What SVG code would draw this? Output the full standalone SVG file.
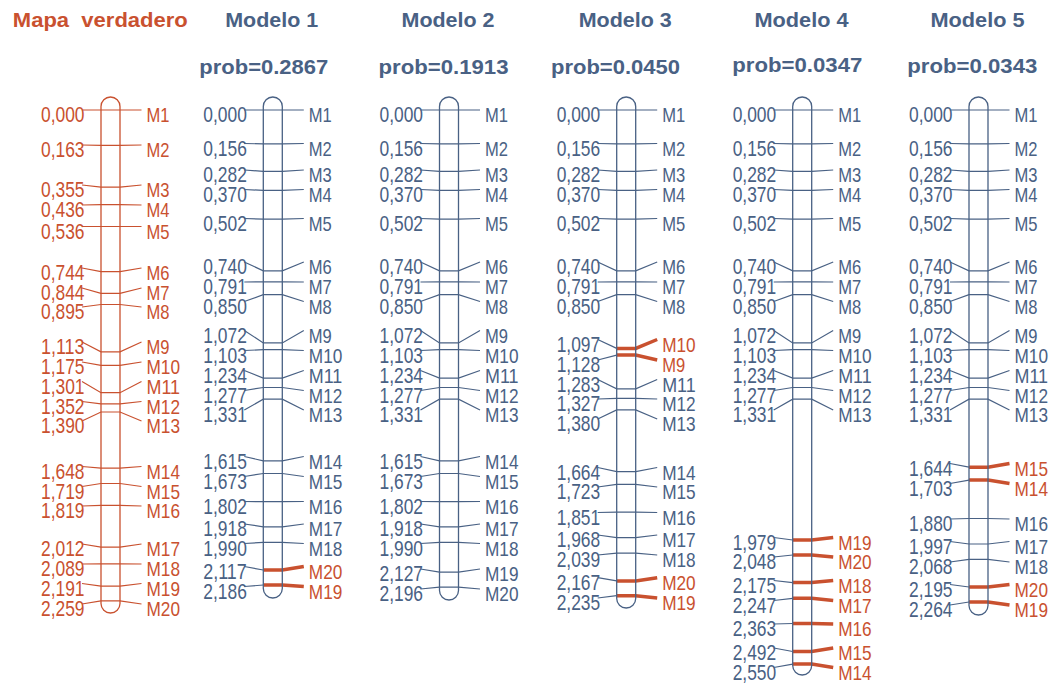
<svg xmlns="http://www.w3.org/2000/svg" width="1050" height="684" viewBox="0 0 1050 684">
<style>
text{font-family:"Liberation Sans",Arial,sans-serif;}
.t{font-size:20px;font-weight:bold;text-anchor:middle;}
.n{font-size:21.5px;text-anchor:end;}
.m{font-size:21px;}
.B{fill:#496184;}
.R{fill:#c9512f;}
.lb{fill:none;stroke:#496184;stroke-width:1.2;}
.lr{fill:none;stroke:#c9512f;stroke-width:1.2;}
.lt{fill:none;stroke:#c9512f;stroke-width:3.5;}
.cb{fill:none;stroke:#496184;stroke-width:1.3;}
.cr{fill:none;stroke:#c9512f;stroke-width:1.3;}
</style>
<rect width="1050" height="684" fill="#ffffff"/>
<g id="titles">
<text class="t R" x="100.3" y="26.7" textLength="175" lengthAdjust="spacingAndGlyphs">Mapa&#160; verdadero</text>
<text class="t B" x="271.7" y="26.7" textLength="93" lengthAdjust="spacingAndGlyphs">Modelo 1</text>
<text class="t B" x="448" y="26.7" textLength="93" lengthAdjust="spacingAndGlyphs">Modelo 2</text>
<text class="t B" x="625.2" y="26.7" textLength="93" lengthAdjust="spacingAndGlyphs">Modelo 3</text>
<text class="t B" x="801.5" y="26.7" textLength="94" lengthAdjust="spacingAndGlyphs">Modelo 4</text>
<text class="t B" x="977.5" y="26.7" textLength="94" lengthAdjust="spacingAndGlyphs">Modelo 5</text>
<text class="t B" x="263.8" y="74" textLength="129" lengthAdjust="spacingAndGlyphs">prob=0.2867</text>
<text class="t B" x="443.5" y="74" textLength="130" lengthAdjust="spacingAndGlyphs">prob=0.1913</text>
<text class="t B" x="615.5" y="74" textLength="129" lengthAdjust="spacingAndGlyphs">prob=0.0450</text>
<text class="t B" x="797.3" y="71.7" textLength="130" lengthAdjust="spacingAndGlyphs">prob=0.0347</text>
<text class="t B" x="972.3" y="72.7" textLength="130" lengthAdjust="spacingAndGlyphs">prob=0.0343</text>
</g>

<g id="connectors">
<g id="leaders-true" class="lr" transform="translate(101,0)">
<polyline points="-19,110 0,110 19,110 40.5,110"/>
<polyline points="-19,145 0,145.4 19,145.4 40.5,145"/>
<polyline points="-19,185 0,187.1 19,187.1 40.5,185"/>
<polyline points="-19,205 0,204.7 19,204.7 40.5,205"/>
<polyline points="-19,226.5 0,226.5 19,226.5 40.5,226.5"/>
<polyline points="-19,268 0,271.7 19,271.7 40.5,268"/>
<polyline points="-19,288 0,293.4 19,293.4 40.5,288"/>
<polyline points="-19,307 0,304.5 19,304.5 40.5,307"/>
<polyline points="-19,342 0,351.9 19,351.9 40.5,342"/>
<polyline points="-19,362 0,365.3 19,365.3 40.5,362"/>
<polyline points="-19,381.5 0,392.7 19,392.7 40.5,381.5"/>
<polyline points="-19,401.5 0,403.8 19,403.8 40.5,401.5"/>
<polyline points="-19,421 0,412 19,412 40.5,421"/>
<polyline points="-19,466.5 0,468.1 19,468.1 40.5,466.5"/>
<polyline points="-19,486.5 0,483.5 19,483.5 40.5,486.5"/>
<polyline points="-19,506 0,505.3 19,505.3 40.5,506"/>
<polyline points="-19,544 0,547.2 19,547.2 40.5,544"/>
<polyline points="-19,564 0,563.9 19,563.9 40.5,564"/>
<polyline points="-19,583.5 0,586.1 19,586.1 40.5,583.5"/>
<polyline points="-19,604 0,600.9 19,600.9 40.5,604"/>
</g>
<g id="leaders-m1" transform="translate(263.3,0)">
<g class="lb">
<polyline points="-19,110 0,110 19,110 40.5,110"/>
<polyline points="-19,143.5 0,143.9 19,143.9 40.5,143.5"/>
<polyline points="-19,170 0,171.3 19,171.3 40.5,170"/>
<polyline points="-19,189.5 0,190.4 19,190.4 40.5,189.5"/>
<polyline points="-19,218.5 0,219.1 19,219.1 40.5,218.5"/>
<polyline points="-19,262 0,270.8 19,270.8 40.5,262"/>
<polyline points="-19,282 0,281.9 19,281.9 40.5,282"/>
<polyline points="-19,301.5 0,294.7 19,294.7 40.5,301.5"/>
<polyline points="-19,330.5 0,342.9 19,342.9 40.5,330.5"/>
<polyline points="-19,350.5 0,349.7 19,349.7 40.5,350.5"/>
<polyline points="-19,370.5 0,378.1 19,378.1 40.5,370.5"/>
<polyline points="-19,390.5 0,387.5 19,387.5 40.5,390.5"/>
<polyline points="-19,410 0,399.2 19,399.2 40.5,410"/>
<polyline points="-19,456.5 0,460.9 19,460.9 40.5,456.5"/>
<polyline points="-19,476.5 0,473.5 19,473.5 40.5,476.5"/>
<polyline points="-19,501.5 0,501.6 19,501.6 40.5,501.5"/>
<polyline points="-19,524 0,526.8 19,526.8 40.5,524"/>
<polyline points="-19,543.5 0,542.4 19,542.4 40.5,543.5"/>
<polyline points="-19,566.5 0,570"/>
<polyline points="-19,586.5 0,585"/>
</g>
<g class="lt">
<polyline points="0,570 19,570 40.5,566.5"/>
<polyline points="0,585 19,585 40.5,586.5"/>
</g>
</g>
<g id="leaders-m2" class="lb" transform="translate(439.5,0)">
<polyline points="-19,110 0,110 19,110 40.5,110"/>
<polyline points="-19,143.5 0,143.9 19,143.9 40.5,143.5"/>
<polyline points="-19,170 0,171.3 19,171.3 40.5,170"/>
<polyline points="-19,189.5 0,190.4 19,190.4 40.5,189.5"/>
<polyline points="-19,218.5 0,219.1 19,219.1 40.5,218.5"/>
<polyline points="-19,262 0,270.8 19,270.8 40.5,262"/>
<polyline points="-19,282 0,281.9 19,281.9 40.5,282"/>
<polyline points="-19,301.5 0,294.7 19,294.7 40.5,301.5"/>
<polyline points="-19,330.5 0,342.9 19,342.9 40.5,330.5"/>
<polyline points="-19,350.5 0,349.7 19,349.7 40.5,350.5"/>
<polyline points="-19,370.5 0,378.1 19,378.1 40.5,370.5"/>
<polyline points="-19,390.5 0,387.5 19,387.5 40.5,390.5"/>
<polyline points="-19,410 0,399.2 19,399.2 40.5,410"/>
<polyline points="-19,456.5 0,460.9 19,460.9 40.5,456.5"/>
<polyline points="-19,476.5 0,473.5 19,473.5 40.5,476.5"/>
<polyline points="-19,501.5 0,501.6 19,501.6 40.5,501.5"/>
<polyline points="-19,524 0,526.8 19,526.8 40.5,524"/>
<polyline points="-19,543.5 0,542.4 19,542.4 40.5,543.5"/>
<polyline points="-19,569 0,572.2 19,572.2 40.5,569"/>
<polyline points="-19,589 0,587.2 19,587.2 40.5,589"/>
</g>
<g id="leaders-m3" transform="translate(616.7,0)">
<g class="lb">
<polyline points="-19,110 0,110 19,110 40.5,110"/>
<polyline points="-19,143.5 0,143.9 19,143.9 40.5,143.5"/>
<polyline points="-19,170 0,171.3 19,171.3 40.5,170"/>
<polyline points="-19,189.5 0,190.4 19,190.4 40.5,189.5"/>
<polyline points="-19,218.5 0,219.1 19,219.1 40.5,218.5"/>
<polyline points="-19,262 0,270.8 19,270.8 40.5,262"/>
<polyline points="-19,282 0,281.9 19,281.9 40.5,282"/>
<polyline points="-19,301.5 0,294.7 19,294.7 40.5,301.5"/>
<polyline points="-19,339.5 0,348.4"/>
<polyline points="-19,360 0,355.1"/>
<polyline points="-19,379.5 0,388.8 19,388.8 40.5,379.5"/>
<polyline points="-19,399 0,398.4 19,398.4 40.5,399"/>
<polyline points="-19,419 0,409.9 19,409.9 40.5,419"/>
<polyline points="-19,467.5 0,471.6 19,471.6 40.5,467.5"/>
<polyline points="-19,487 0,484.4 19,484.4 40.5,487"/>
<polyline points="-19,512.5 0,512.2 19,512.2 40.5,512.5"/>
<polyline points="-19,535 0,537.6 19,537.6 40.5,535"/>
<polyline points="-19,555 0,553.1 19,553.1 40.5,555"/>
<polyline points="-19,577.7 0,580.9"/>
<polyline points="-19,598 0,595.7"/>
</g>
<g class="lt">
<polyline points="0,348.4 19,348.4 40.5,339.5"/>
<polyline points="0,355.1 19,355.1 40.5,360"/>
<polyline points="0,580.9 19,580.9 40.5,577.7"/>
<polyline points="0,595.7 19,595.7 40.5,598"/>
</g>
</g>
<g id="leaders-m4" transform="translate(792.7,0)">
<g class="lb">
<polyline points="-19,110 0,110 19,110 40.5,110"/>
<polyline points="-19,143.5 0,143.9 19,143.9 40.5,143.5"/>
<polyline points="-19,170 0,171.3 19,171.3 40.5,170"/>
<polyline points="-19,189.5 0,190.4 19,190.4 40.5,189.5"/>
<polyline points="-19,218.5 0,219.1 19,219.1 40.5,218.5"/>
<polyline points="-19,262 0,270.8 19,270.8 40.5,262"/>
<polyline points="-19,282 0,281.9 19,281.9 40.5,282"/>
<polyline points="-19,301.5 0,294.7 19,294.7 40.5,301.5"/>
<polyline points="-19,330.5 0,342.9 19,342.9 40.5,330.5"/>
<polyline points="-19,350.5 0,349.7 19,349.7 40.5,350.5"/>
<polyline points="-19,370.5 0,378.1 19,378.1 40.5,370.5"/>
<polyline points="-19,390.5 0,387.5 19,387.5 40.5,390.5"/>
<polyline points="-19,410 0,399.2 19,399.2 40.5,410"/>
<polyline points="-19,537.5 0,540"/>
<polyline points="-19,557 0,555"/>
<polyline points="-19,580.5 0,582.6"/>
<polyline points="-19,600.5 0,598.3"/>
<polyline points="-19,624 0,623.5"/>
<polyline points="-19,648 0,651.5"/>
<polyline points="-19,667.5 0,664.1"/>
</g>
<g class="lt">
<polyline points="0,540 19,540 40.5,537.5"/>
<polyline points="0,555 19,555 40.5,557"/>
<polyline points="0,582.6 19,582.6 40.5,580.5"/>
<polyline points="0,598.3 19,598.3 40.5,600.5"/>
<polyline points="0,623.5 19,623.5 40.5,624"/>
<polyline points="0,651.5 19,651.5 40.5,648"/>
<polyline points="0,664.1 19,664.1 40.5,667.5"/>
</g>
</g>
<g id="leaders-m5" transform="translate(969,0)">
<g class="lb">
<polyline points="-19,110 0,110 19,110 40.5,110"/>
<polyline points="-19,143.5 0,143.9 19,143.9 40.5,143.5"/>
<polyline points="-19,170 0,171.3 19,171.3 40.5,170"/>
<polyline points="-19,189.5 0,190.4 19,190.4 40.5,189.5"/>
<polyline points="-19,218.5 0,219.1 19,219.1 40.5,218.5"/>
<polyline points="-19,262 0,270.8 19,270.8 40.5,262"/>
<polyline points="-19,282 0,281.9 19,281.9 40.5,282"/>
<polyline points="-19,301.5 0,294.7 19,294.7 40.5,301.5"/>
<polyline points="-19,330.5 0,342.9 19,342.9 40.5,330.5"/>
<polyline points="-19,350.5 0,349.7 19,349.7 40.5,350.5"/>
<polyline points="-19,370.5 0,378.1 19,378.1 40.5,370.5"/>
<polyline points="-19,390.5 0,387.5 19,387.5 40.5,390.5"/>
<polyline points="-19,410 0,399.2 19,399.2 40.5,410"/>
<polyline points="-19,463.5 0,467.2"/>
<polyline points="-19,483.5 0,480.1"/>
<polyline points="-19,519 0,518.5 19,518.5 40.5,519"/>
<polyline points="-19,541.5 0,544 19,544 40.5,541.5"/>
<polyline points="-19,562 0,559.4 19,559.4 40.5,562"/>
<polyline points="-19,584.5 0,587"/>
<polyline points="-19,605 0,602"/>
</g>
<g class="lt">
<polyline points="0,467.2 19,467.2 40.5,463.5"/>
<polyline points="0,480.1 19,480.1 40.5,483.5"/>
<polyline points="0,587 19,587 40.5,584.5"/>
<polyline points="0,602 19,602 40.5,605"/>
</g>
</g>
</g>

<g id="map-true" transform="translate(101,0)">
<rect class="cr" x="0" y="97" width="19" height="516" rx="9.5" ry="9.5"/>
<g class="R">
<text class="n" x="-16.5" y="122" textLength="43.5" lengthAdjust="spacingAndGlyphs">0,000</text>
<text class="n" x="-16.5" y="157" textLength="43.5" lengthAdjust="spacingAndGlyphs">0,163</text>
<text class="n" x="-16.5" y="197" textLength="43.5" lengthAdjust="spacingAndGlyphs">0,355</text>
<text class="n" x="-16.5" y="217" textLength="43.5" lengthAdjust="spacingAndGlyphs">0,436</text>
<text class="n" x="-16.5" y="238.5" textLength="43.5" lengthAdjust="spacingAndGlyphs">0,536</text>
<text class="n" x="-16.5" y="280" textLength="43.5" lengthAdjust="spacingAndGlyphs">0,744</text>
<text class="n" x="-16.5" y="300" textLength="43.5" lengthAdjust="spacingAndGlyphs">0,844</text>
<text class="n" x="-16.5" y="319" textLength="43.5" lengthAdjust="spacingAndGlyphs">0,895</text>
<text class="n" x="-16.5" y="354" textLength="43.5" lengthAdjust="spacingAndGlyphs">1,113</text>
<text class="n" x="-16.5" y="374" textLength="43.5" lengthAdjust="spacingAndGlyphs">1,175</text>
<text class="n" x="-16.5" y="393.5" textLength="43.5" lengthAdjust="spacingAndGlyphs">1,301</text>
<text class="n" x="-16.5" y="413.5" textLength="43.5" lengthAdjust="spacingAndGlyphs">1,352</text>
<text class="n" x="-16.5" y="433" textLength="43.5" lengthAdjust="spacingAndGlyphs">1,390</text>
<text class="n" x="-16.5" y="478.5" textLength="43.5" lengthAdjust="spacingAndGlyphs">1,648</text>
<text class="n" x="-16.5" y="498.5" textLength="43.5" lengthAdjust="spacingAndGlyphs">1,719</text>
<text class="n" x="-16.5" y="518" textLength="43.5" lengthAdjust="spacingAndGlyphs">1,819</text>
<text class="n" x="-16.5" y="556" textLength="43.5" lengthAdjust="spacingAndGlyphs">2,012</text>
<text class="n" x="-16.5" y="576" textLength="43.5" lengthAdjust="spacingAndGlyphs">2,089</text>
<text class="n" x="-16.5" y="595.5" textLength="43.5" lengthAdjust="spacingAndGlyphs">2,191</text>
<text class="n" x="-16.5" y="616" textLength="43.5" lengthAdjust="spacingAndGlyphs">2,259</text>
<text class="m" x="45.5" y="122" textLength="23" lengthAdjust="spacingAndGlyphs">M1</text>
<text class="m" x="45.5" y="157" textLength="23" lengthAdjust="spacingAndGlyphs">M2</text>
<text class="m" x="45.5" y="197" textLength="23" lengthAdjust="spacingAndGlyphs">M3</text>
<text class="m" x="45.5" y="217" textLength="23" lengthAdjust="spacingAndGlyphs">M4</text>
<text class="m" x="45.5" y="238.5" textLength="23" lengthAdjust="spacingAndGlyphs">M5</text>
<text class="m" x="45.5" y="280" textLength="23" lengthAdjust="spacingAndGlyphs">M6</text>
<text class="m" x="45.5" y="300" textLength="23" lengthAdjust="spacingAndGlyphs">M7</text>
<text class="m" x="45.5" y="319" textLength="23" lengthAdjust="spacingAndGlyphs">M8</text>
<text class="m" x="45.5" y="354" textLength="23" lengthAdjust="spacingAndGlyphs">M9</text>
<text class="m" x="45.5" y="374" textLength="33.5" lengthAdjust="spacingAndGlyphs">M10</text>
<text class="m" x="45.5" y="393.5" textLength="33.5" lengthAdjust="spacingAndGlyphs">M11</text>
<text class="m" x="45.5" y="413.5" textLength="33.5" lengthAdjust="spacingAndGlyphs">M12</text>
<text class="m" x="45.5" y="433" textLength="33.5" lengthAdjust="spacingAndGlyphs">M13</text>
<text class="m" x="45.5" y="478.5" textLength="33.5" lengthAdjust="spacingAndGlyphs">M14</text>
<text class="m" x="45.5" y="498.5" textLength="33.5" lengthAdjust="spacingAndGlyphs">M15</text>
<text class="m" x="45.5" y="518" textLength="33.5" lengthAdjust="spacingAndGlyphs">M16</text>
<text class="m" x="45.5" y="556" textLength="33.5" lengthAdjust="spacingAndGlyphs">M17</text>
<text class="m" x="45.5" y="576" textLength="33.5" lengthAdjust="spacingAndGlyphs">M18</text>
<text class="m" x="45.5" y="595.5" textLength="33.5" lengthAdjust="spacingAndGlyphs">M19</text>
<text class="m" x="45.5" y="616" textLength="33.5" lengthAdjust="spacingAndGlyphs">M20</text>
</g>
</g>

<g id="modelo-1" transform="translate(263.3,0)">
<rect class="cb" x="0" y="97" width="19" height="501" rx="9.5" ry="9.5"/>
<g class="B">
<text class="n" x="-16.5" y="122" textLength="43.5" lengthAdjust="spacingAndGlyphs">0,000</text>
<text class="n" x="-16.5" y="155.5" textLength="43.5" lengthAdjust="spacingAndGlyphs">0,156</text>
<text class="n" x="-16.5" y="182" textLength="43.5" lengthAdjust="spacingAndGlyphs">0,282</text>
<text class="n" x="-16.5" y="201.5" textLength="43.5" lengthAdjust="spacingAndGlyphs">0,370</text>
<text class="n" x="-16.5" y="230.5" textLength="43.5" lengthAdjust="spacingAndGlyphs">0,502</text>
<text class="n" x="-16.5" y="274" textLength="43.5" lengthAdjust="spacingAndGlyphs">0,740</text>
<text class="n" x="-16.5" y="294" textLength="43.5" lengthAdjust="spacingAndGlyphs">0,791</text>
<text class="n" x="-16.5" y="313.5" textLength="43.5" lengthAdjust="spacingAndGlyphs">0,850</text>
<text class="n" x="-16.5" y="342.5" textLength="43.5" lengthAdjust="spacingAndGlyphs">1,072</text>
<text class="n" x="-16.5" y="362.5" textLength="43.5" lengthAdjust="spacingAndGlyphs">1,103</text>
<text class="n" x="-16.5" y="382.5" textLength="43.5" lengthAdjust="spacingAndGlyphs">1,234</text>
<text class="n" x="-16.5" y="402.5" textLength="43.5" lengthAdjust="spacingAndGlyphs">1,277</text>
<text class="n" x="-16.5" y="422" textLength="43.5" lengthAdjust="spacingAndGlyphs">1,331</text>
<text class="n" x="-16.5" y="468.5" textLength="43.5" lengthAdjust="spacingAndGlyphs">1,615</text>
<text class="n" x="-16.5" y="488.5" textLength="43.5" lengthAdjust="spacingAndGlyphs">1,673</text>
<text class="n" x="-16.5" y="513.5" textLength="43.5" lengthAdjust="spacingAndGlyphs">1,802</text>
<text class="n" x="-16.5" y="536" textLength="43.5" lengthAdjust="spacingAndGlyphs">1,918</text>
<text class="n" x="-16.5" y="555.5" textLength="43.5" lengthAdjust="spacingAndGlyphs">1,990</text>
<text class="n" x="-16.5" y="578.5" textLength="43.5" lengthAdjust="spacingAndGlyphs">2,117</text>
<text class="n" x="-16.5" y="598.5" textLength="43.5" lengthAdjust="spacingAndGlyphs">2,186</text>
<text class="m" x="45.5" y="122" textLength="23" lengthAdjust="spacingAndGlyphs">M1</text>
<text class="m" x="45.5" y="155.5" textLength="23" lengthAdjust="spacingAndGlyphs">M2</text>
<text class="m" x="45.5" y="182" textLength="23" lengthAdjust="spacingAndGlyphs">M3</text>
<text class="m" x="45.5" y="201.5" textLength="23" lengthAdjust="spacingAndGlyphs">M4</text>
<text class="m" x="45.5" y="230.5" textLength="23" lengthAdjust="spacingAndGlyphs">M5</text>
<text class="m" x="45.5" y="274" textLength="23" lengthAdjust="spacingAndGlyphs">M6</text>
<text class="m" x="45.5" y="294" textLength="23" lengthAdjust="spacingAndGlyphs">M7</text>
<text class="m" x="45.5" y="313.5" textLength="23" lengthAdjust="spacingAndGlyphs">M8</text>
<text class="m" x="45.5" y="342.5" textLength="23" lengthAdjust="spacingAndGlyphs">M9</text>
<text class="m" x="45.5" y="362.5" textLength="33.5" lengthAdjust="spacingAndGlyphs">M10</text>
<text class="m" x="45.5" y="382.5" textLength="33.5" lengthAdjust="spacingAndGlyphs">M11</text>
<text class="m" x="45.5" y="402.5" textLength="33.5" lengthAdjust="spacingAndGlyphs">M12</text>
<text class="m" x="45.5" y="422" textLength="33.5" lengthAdjust="spacingAndGlyphs">M13</text>
<text class="m" x="45.5" y="468.5" textLength="33.5" lengthAdjust="spacingAndGlyphs">M14</text>
<text class="m" x="45.5" y="488.5" textLength="33.5" lengthAdjust="spacingAndGlyphs">M15</text>
<text class="m" x="45.5" y="513.5" textLength="33.5" lengthAdjust="spacingAndGlyphs">M16</text>
<text class="m" x="45.5" y="536" textLength="33.5" lengthAdjust="spacingAndGlyphs">M17</text>
<text class="m" x="45.5" y="555.5" textLength="33.5" lengthAdjust="spacingAndGlyphs">M18</text>
</g>
<g class="R">
<text class="m" x="45.5" y="578.5" textLength="33.5" lengthAdjust="spacingAndGlyphs">M20</text>
<text class="m" x="45.5" y="598.5" textLength="33.5" lengthAdjust="spacingAndGlyphs">M19</text>
</g>
</g>

<g id="modelo-2" transform="translate(439.5,0)">
<rect class="cb" x="0" y="97" width="19" height="503" rx="9.5" ry="9.5"/>
<g class="B">
<text class="n" x="-16.5" y="122" textLength="43.5" lengthAdjust="spacingAndGlyphs">0,000</text>
<text class="n" x="-16.5" y="155.5" textLength="43.5" lengthAdjust="spacingAndGlyphs">0,156</text>
<text class="n" x="-16.5" y="182" textLength="43.5" lengthAdjust="spacingAndGlyphs">0,282</text>
<text class="n" x="-16.5" y="201.5" textLength="43.5" lengthAdjust="spacingAndGlyphs">0,370</text>
<text class="n" x="-16.5" y="230.5" textLength="43.5" lengthAdjust="spacingAndGlyphs">0,502</text>
<text class="n" x="-16.5" y="274" textLength="43.5" lengthAdjust="spacingAndGlyphs">0,740</text>
<text class="n" x="-16.5" y="294" textLength="43.5" lengthAdjust="spacingAndGlyphs">0,791</text>
<text class="n" x="-16.5" y="313.5" textLength="43.5" lengthAdjust="spacingAndGlyphs">0,850</text>
<text class="n" x="-16.5" y="342.5" textLength="43.5" lengthAdjust="spacingAndGlyphs">1,072</text>
<text class="n" x="-16.5" y="362.5" textLength="43.5" lengthAdjust="spacingAndGlyphs">1,103</text>
<text class="n" x="-16.5" y="382.5" textLength="43.5" lengthAdjust="spacingAndGlyphs">1,234</text>
<text class="n" x="-16.5" y="402.5" textLength="43.5" lengthAdjust="spacingAndGlyphs">1,277</text>
<text class="n" x="-16.5" y="422" textLength="43.5" lengthAdjust="spacingAndGlyphs">1,331</text>
<text class="n" x="-16.5" y="468.5" textLength="43.5" lengthAdjust="spacingAndGlyphs">1,615</text>
<text class="n" x="-16.5" y="488.5" textLength="43.5" lengthAdjust="spacingAndGlyphs">1,673</text>
<text class="n" x="-16.5" y="513.5" textLength="43.5" lengthAdjust="spacingAndGlyphs">1,802</text>
<text class="n" x="-16.5" y="536" textLength="43.5" lengthAdjust="spacingAndGlyphs">1,918</text>
<text class="n" x="-16.5" y="555.5" textLength="43.5" lengthAdjust="spacingAndGlyphs">1,990</text>
<text class="n" x="-16.5" y="581" textLength="43.5" lengthAdjust="spacingAndGlyphs">2,127</text>
<text class="n" x="-16.5" y="601" textLength="43.5" lengthAdjust="spacingAndGlyphs">2,196</text>
<text class="m" x="45.5" y="122" textLength="23" lengthAdjust="spacingAndGlyphs">M1</text>
<text class="m" x="45.5" y="155.5" textLength="23" lengthAdjust="spacingAndGlyphs">M2</text>
<text class="m" x="45.5" y="182" textLength="23" lengthAdjust="spacingAndGlyphs">M3</text>
<text class="m" x="45.5" y="201.5" textLength="23" lengthAdjust="spacingAndGlyphs">M4</text>
<text class="m" x="45.5" y="230.5" textLength="23" lengthAdjust="spacingAndGlyphs">M5</text>
<text class="m" x="45.5" y="274" textLength="23" lengthAdjust="spacingAndGlyphs">M6</text>
<text class="m" x="45.5" y="294" textLength="23" lengthAdjust="spacingAndGlyphs">M7</text>
<text class="m" x="45.5" y="313.5" textLength="23" lengthAdjust="spacingAndGlyphs">M8</text>
<text class="m" x="45.5" y="342.5" textLength="23" lengthAdjust="spacingAndGlyphs">M9</text>
<text class="m" x="45.5" y="362.5" textLength="33.5" lengthAdjust="spacingAndGlyphs">M10</text>
<text class="m" x="45.5" y="382.5" textLength="33.5" lengthAdjust="spacingAndGlyphs">M11</text>
<text class="m" x="45.5" y="402.5" textLength="33.5" lengthAdjust="spacingAndGlyphs">M12</text>
<text class="m" x="45.5" y="422" textLength="33.5" lengthAdjust="spacingAndGlyphs">M13</text>
<text class="m" x="45.5" y="468.5" textLength="33.5" lengthAdjust="spacingAndGlyphs">M14</text>
<text class="m" x="45.5" y="488.5" textLength="33.5" lengthAdjust="spacingAndGlyphs">M15</text>
<text class="m" x="45.5" y="513.5" textLength="33.5" lengthAdjust="spacingAndGlyphs">M16</text>
<text class="m" x="45.5" y="536" textLength="33.5" lengthAdjust="spacingAndGlyphs">M17</text>
<text class="m" x="45.5" y="555.5" textLength="33.5" lengthAdjust="spacingAndGlyphs">M18</text>
<text class="m" x="45.5" y="581" textLength="33.5" lengthAdjust="spacingAndGlyphs">M19</text>
<text class="m" x="45.5" y="601" textLength="33.5" lengthAdjust="spacingAndGlyphs">M20</text>
</g>
</g>

<g id="modelo-3" transform="translate(616.7,0)">
<rect class="cb" x="0" y="97" width="19" height="511" rx="9.5" ry="9.5"/>
<g class="B">
<text class="n" x="-16.5" y="122" textLength="43.5" lengthAdjust="spacingAndGlyphs">0,000</text>
<text class="n" x="-16.5" y="155.5" textLength="43.5" lengthAdjust="spacingAndGlyphs">0,156</text>
<text class="n" x="-16.5" y="182" textLength="43.5" lengthAdjust="spacingAndGlyphs">0,282</text>
<text class="n" x="-16.5" y="201.5" textLength="43.5" lengthAdjust="spacingAndGlyphs">0,370</text>
<text class="n" x="-16.5" y="230.5" textLength="43.5" lengthAdjust="spacingAndGlyphs">0,502</text>
<text class="n" x="-16.5" y="274" textLength="43.5" lengthAdjust="spacingAndGlyphs">0,740</text>
<text class="n" x="-16.5" y="294" textLength="43.5" lengthAdjust="spacingAndGlyphs">0,791</text>
<text class="n" x="-16.5" y="313.5" textLength="43.5" lengthAdjust="spacingAndGlyphs">0,850</text>
<text class="n" x="-16.5" y="351.5" textLength="43.5" lengthAdjust="spacingAndGlyphs">1,097</text>
<text class="n" x="-16.5" y="372" textLength="43.5" lengthAdjust="spacingAndGlyphs">1,128</text>
<text class="n" x="-16.5" y="391.5" textLength="43.5" lengthAdjust="spacingAndGlyphs">1,283</text>
<text class="n" x="-16.5" y="411" textLength="43.5" lengthAdjust="spacingAndGlyphs">1,327</text>
<text class="n" x="-16.5" y="431" textLength="43.5" lengthAdjust="spacingAndGlyphs">1,380</text>
<text class="n" x="-16.5" y="479.5" textLength="43.5" lengthAdjust="spacingAndGlyphs">1,664</text>
<text class="n" x="-16.5" y="499" textLength="43.5" lengthAdjust="spacingAndGlyphs">1,723</text>
<text class="n" x="-16.5" y="524.5" textLength="43.5" lengthAdjust="spacingAndGlyphs">1,851</text>
<text class="n" x="-16.5" y="547" textLength="43.5" lengthAdjust="spacingAndGlyphs">1,968</text>
<text class="n" x="-16.5" y="567" textLength="43.5" lengthAdjust="spacingAndGlyphs">2,039</text>
<text class="n" x="-16.5" y="589.7" textLength="43.5" lengthAdjust="spacingAndGlyphs">2,167</text>
<text class="n" x="-16.5" y="610" textLength="43.5" lengthAdjust="spacingAndGlyphs">2,235</text>
<text class="m" x="45.5" y="122" textLength="23" lengthAdjust="spacingAndGlyphs">M1</text>
<text class="m" x="45.5" y="155.5" textLength="23" lengthAdjust="spacingAndGlyphs">M2</text>
<text class="m" x="45.5" y="182" textLength="23" lengthAdjust="spacingAndGlyphs">M3</text>
<text class="m" x="45.5" y="201.5" textLength="23" lengthAdjust="spacingAndGlyphs">M4</text>
<text class="m" x="45.5" y="230.5" textLength="23" lengthAdjust="spacingAndGlyphs">M5</text>
<text class="m" x="45.5" y="274" textLength="23" lengthAdjust="spacingAndGlyphs">M6</text>
<text class="m" x="45.5" y="294" textLength="23" lengthAdjust="spacingAndGlyphs">M7</text>
<text class="m" x="45.5" y="313.5" textLength="23" lengthAdjust="spacingAndGlyphs">M8</text>
<text class="m" x="45.5" y="391.5" textLength="33.5" lengthAdjust="spacingAndGlyphs">M11</text>
<text class="m" x="45.5" y="411" textLength="33.5" lengthAdjust="spacingAndGlyphs">M12</text>
<text class="m" x="45.5" y="431" textLength="33.5" lengthAdjust="spacingAndGlyphs">M13</text>
<text class="m" x="45.5" y="479.5" textLength="33.5" lengthAdjust="spacingAndGlyphs">M14</text>
<text class="m" x="45.5" y="499" textLength="33.5" lengthAdjust="spacingAndGlyphs">M15</text>
<text class="m" x="45.5" y="524.5" textLength="33.5" lengthAdjust="spacingAndGlyphs">M16</text>
<text class="m" x="45.5" y="547" textLength="33.5" lengthAdjust="spacingAndGlyphs">M17</text>
<text class="m" x="45.5" y="567" textLength="33.5" lengthAdjust="spacingAndGlyphs">M18</text>
</g>
<g class="R">
<text class="m" x="45.5" y="351.5" textLength="33.5" lengthAdjust="spacingAndGlyphs">M10</text>
<text class="m" x="45.5" y="372" textLength="23" lengthAdjust="spacingAndGlyphs">M9</text>
<text class="m" x="45.5" y="589.7" textLength="33.5" lengthAdjust="spacingAndGlyphs">M20</text>
<text class="m" x="45.5" y="610" textLength="33.5" lengthAdjust="spacingAndGlyphs">M19</text>
</g>
</g>

<g id="modelo-4" transform="translate(792.7,0)">
<rect class="cb" x="0" y="97" width="19" height="578" rx="9.5" ry="9.5"/>
<g class="B">
<text class="n" x="-16.5" y="122" textLength="43.5" lengthAdjust="spacingAndGlyphs">0,000</text>
<text class="n" x="-16.5" y="155.5" textLength="43.5" lengthAdjust="spacingAndGlyphs">0,156</text>
<text class="n" x="-16.5" y="182" textLength="43.5" lengthAdjust="spacingAndGlyphs">0,282</text>
<text class="n" x="-16.5" y="201.5" textLength="43.5" lengthAdjust="spacingAndGlyphs">0,370</text>
<text class="n" x="-16.5" y="230.5" textLength="43.5" lengthAdjust="spacingAndGlyphs">0,502</text>
<text class="n" x="-16.5" y="274" textLength="43.5" lengthAdjust="spacingAndGlyphs">0,740</text>
<text class="n" x="-16.5" y="294" textLength="43.5" lengthAdjust="spacingAndGlyphs">0,791</text>
<text class="n" x="-16.5" y="313.5" textLength="43.5" lengthAdjust="spacingAndGlyphs">0,850</text>
<text class="n" x="-16.5" y="342.5" textLength="43.5" lengthAdjust="spacingAndGlyphs">1,072</text>
<text class="n" x="-16.5" y="362.5" textLength="43.5" lengthAdjust="spacingAndGlyphs">1,103</text>
<text class="n" x="-16.5" y="382.5" textLength="43.5" lengthAdjust="spacingAndGlyphs">1,234</text>
<text class="n" x="-16.5" y="402.5" textLength="43.5" lengthAdjust="spacingAndGlyphs">1,277</text>
<text class="n" x="-16.5" y="422" textLength="43.5" lengthAdjust="spacingAndGlyphs">1,331</text>
<text class="n" x="-16.5" y="549.5" textLength="43.5" lengthAdjust="spacingAndGlyphs">1,979</text>
<text class="n" x="-16.5" y="569" textLength="43.5" lengthAdjust="spacingAndGlyphs">2,048</text>
<text class="n" x="-16.5" y="592.5" textLength="43.5" lengthAdjust="spacingAndGlyphs">2,175</text>
<text class="n" x="-16.5" y="612.5" textLength="43.5" lengthAdjust="spacingAndGlyphs">2,247</text>
<text class="n" x="-16.5" y="636" textLength="43.5" lengthAdjust="spacingAndGlyphs">2,363</text>
<text class="n" x="-16.5" y="660" textLength="43.5" lengthAdjust="spacingAndGlyphs">2,492</text>
<text class="n" x="-16.5" y="679.5" textLength="43.5" lengthAdjust="spacingAndGlyphs">2,550</text>
<text class="m" x="45.5" y="122" textLength="23" lengthAdjust="spacingAndGlyphs">M1</text>
<text class="m" x="45.5" y="155.5" textLength="23" lengthAdjust="spacingAndGlyphs">M2</text>
<text class="m" x="45.5" y="182" textLength="23" lengthAdjust="spacingAndGlyphs">M3</text>
<text class="m" x="45.5" y="201.5" textLength="23" lengthAdjust="spacingAndGlyphs">M4</text>
<text class="m" x="45.5" y="230.5" textLength="23" lengthAdjust="spacingAndGlyphs">M5</text>
<text class="m" x="45.5" y="274" textLength="23" lengthAdjust="spacingAndGlyphs">M6</text>
<text class="m" x="45.5" y="294" textLength="23" lengthAdjust="spacingAndGlyphs">M7</text>
<text class="m" x="45.5" y="313.5" textLength="23" lengthAdjust="spacingAndGlyphs">M8</text>
<text class="m" x="45.5" y="342.5" textLength="23" lengthAdjust="spacingAndGlyphs">M9</text>
<text class="m" x="45.5" y="362.5" textLength="33.5" lengthAdjust="spacingAndGlyphs">M10</text>
<text class="m" x="45.5" y="382.5" textLength="33.5" lengthAdjust="spacingAndGlyphs">M11</text>
<text class="m" x="45.5" y="402.5" textLength="33.5" lengthAdjust="spacingAndGlyphs">M12</text>
<text class="m" x="45.5" y="422" textLength="33.5" lengthAdjust="spacingAndGlyphs">M13</text>
</g>
<g class="R">
<text class="m" x="45.5" y="549.5" textLength="33.5" lengthAdjust="spacingAndGlyphs">M19</text>
<text class="m" x="45.5" y="569" textLength="33.5" lengthAdjust="spacingAndGlyphs">M20</text>
<text class="m" x="45.5" y="592.5" textLength="33.5" lengthAdjust="spacingAndGlyphs">M18</text>
<text class="m" x="45.5" y="612.5" textLength="33.5" lengthAdjust="spacingAndGlyphs">M17</text>
<text class="m" x="45.5" y="636" textLength="33.5" lengthAdjust="spacingAndGlyphs">M16</text>
<text class="m" x="45.5" y="660" textLength="33.5" lengthAdjust="spacingAndGlyphs">M15</text>
<text class="m" x="45.5" y="679.5" textLength="33.5" lengthAdjust="spacingAndGlyphs">M14</text>
</g>
</g>

<g id="modelo-5" transform="translate(969,0)">
<rect class="cb" x="0" y="97" width="19" height="518" rx="9.5" ry="9.5"/>
<g class="B">
<text class="n" x="-16.5" y="122" textLength="43.5" lengthAdjust="spacingAndGlyphs">0,000</text>
<text class="n" x="-16.5" y="155.5" textLength="43.5" lengthAdjust="spacingAndGlyphs">0,156</text>
<text class="n" x="-16.5" y="182" textLength="43.5" lengthAdjust="spacingAndGlyphs">0,282</text>
<text class="n" x="-16.5" y="201.5" textLength="43.5" lengthAdjust="spacingAndGlyphs">0,370</text>
<text class="n" x="-16.5" y="230.5" textLength="43.5" lengthAdjust="spacingAndGlyphs">0,502</text>
<text class="n" x="-16.5" y="274" textLength="43.5" lengthAdjust="spacingAndGlyphs">0,740</text>
<text class="n" x="-16.5" y="294" textLength="43.5" lengthAdjust="spacingAndGlyphs">0,791</text>
<text class="n" x="-16.5" y="313.5" textLength="43.5" lengthAdjust="spacingAndGlyphs">0,850</text>
<text class="n" x="-16.5" y="342.5" textLength="43.5" lengthAdjust="spacingAndGlyphs">1,072</text>
<text class="n" x="-16.5" y="362.5" textLength="43.5" lengthAdjust="spacingAndGlyphs">1,103</text>
<text class="n" x="-16.5" y="382.5" textLength="43.5" lengthAdjust="spacingAndGlyphs">1,234</text>
<text class="n" x="-16.5" y="402.5" textLength="43.5" lengthAdjust="spacingAndGlyphs">1,277</text>
<text class="n" x="-16.5" y="422" textLength="43.5" lengthAdjust="spacingAndGlyphs">1,331</text>
<text class="n" x="-16.5" y="475.5" textLength="43.5" lengthAdjust="spacingAndGlyphs">1,644</text>
<text class="n" x="-16.5" y="495.5" textLength="43.5" lengthAdjust="spacingAndGlyphs">1,703</text>
<text class="n" x="-16.5" y="531" textLength="43.5" lengthAdjust="spacingAndGlyphs">1,880</text>
<text class="n" x="-16.5" y="553.5" textLength="43.5" lengthAdjust="spacingAndGlyphs">1,997</text>
<text class="n" x="-16.5" y="574" textLength="43.5" lengthAdjust="spacingAndGlyphs">2,068</text>
<text class="n" x="-16.5" y="596.5" textLength="43.5" lengthAdjust="spacingAndGlyphs">2,195</text>
<text class="n" x="-16.5" y="617" textLength="43.5" lengthAdjust="spacingAndGlyphs">2,264</text>
<text class="m" x="45.5" y="122" textLength="23" lengthAdjust="spacingAndGlyphs">M1</text>
<text class="m" x="45.5" y="155.5" textLength="23" lengthAdjust="spacingAndGlyphs">M2</text>
<text class="m" x="45.5" y="182" textLength="23" lengthAdjust="spacingAndGlyphs">M3</text>
<text class="m" x="45.5" y="201.5" textLength="23" lengthAdjust="spacingAndGlyphs">M4</text>
<text class="m" x="45.5" y="230.5" textLength="23" lengthAdjust="spacingAndGlyphs">M5</text>
<text class="m" x="45.5" y="274" textLength="23" lengthAdjust="spacingAndGlyphs">M6</text>
<text class="m" x="45.5" y="294" textLength="23" lengthAdjust="spacingAndGlyphs">M7</text>
<text class="m" x="45.5" y="313.5" textLength="23" lengthAdjust="spacingAndGlyphs">M8</text>
<text class="m" x="45.5" y="342.5" textLength="23" lengthAdjust="spacingAndGlyphs">M9</text>
<text class="m" x="45.5" y="362.5" textLength="33.5" lengthAdjust="spacingAndGlyphs">M10</text>
<text class="m" x="45.5" y="382.5" textLength="33.5" lengthAdjust="spacingAndGlyphs">M11</text>
<text class="m" x="45.5" y="402.5" textLength="33.5" lengthAdjust="spacingAndGlyphs">M12</text>
<text class="m" x="45.5" y="422" textLength="33.5" lengthAdjust="spacingAndGlyphs">M13</text>
<text class="m" x="45.5" y="531" textLength="33.5" lengthAdjust="spacingAndGlyphs">M16</text>
<text class="m" x="45.5" y="553.5" textLength="33.5" lengthAdjust="spacingAndGlyphs">M17</text>
<text class="m" x="45.5" y="574" textLength="33.5" lengthAdjust="spacingAndGlyphs">M18</text>
</g>
<g class="R">
<text class="m" x="45.5" y="475.5" textLength="33.5" lengthAdjust="spacingAndGlyphs">M15</text>
<text class="m" x="45.5" y="495.5" textLength="33.5" lengthAdjust="spacingAndGlyphs">M14</text>
<text class="m" x="45.5" y="596.5" textLength="33.5" lengthAdjust="spacingAndGlyphs">M20</text>
<text class="m" x="45.5" y="617" textLength="33.5" lengthAdjust="spacingAndGlyphs">M19</text>
</g>
</g>
</svg>
